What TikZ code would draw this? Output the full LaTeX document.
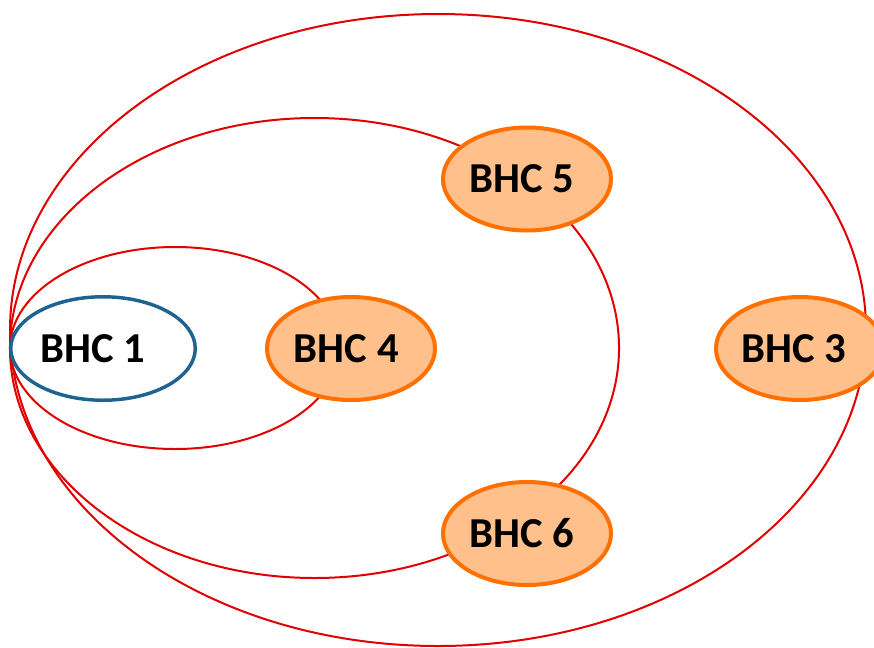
\documentclass[tikz,border=0pt]{standalone}
\usepackage{fontspec}
\setmainfont{Carlito}
\usetikzlibrary{shapes.geometric}
\definecolor{ringred}{RGB}{224,0,0}
\definecolor{bhcorange}{RGB}{255,112,0}
\definecolor{bhcfill}{RGB}{255,192,140}
\definecolor{bhcblue}{RGB}{31,99,145}
\tikzset{
  ring/.style={draw=ringred, line width=1.5pt},
  bhcnode/.style={ellipse, inner sep=0pt, minimum width=126pt, minimum height=77.25pt,
     draw=bhcorange, line width=3pt, fill=bhcfill,
     font=\fontsize{32}{36}\selectfont\bfseries, text=black},
  bhcroot/.style={bhcnode, draw=bhcblue, fill=white, line width=2.6pt,
     minimum width=138.4pt, minimum height=77.6pt}
}
\begin{document}
\begin{tikzpicture}[x=0.75pt, y=-0.75pt]
\useasboundingbox (0,0) rectangle (874,647);
% rings
\draw[ring] (438,330) ellipse [x radius=321pt, y radius=237pt];
\draw[ring] (314.5,348) ellipse [x radius=228.4pt, y radius=172.5pt];
\draw[ring] (175,348) ellipse [x radius=123.75pt, y radius=75.75pt];
% nodes
\node[bhcroot] (b1) at (103,348.5) {BHC 1\kern15pt};
\node[bhcnode] (b4) at (351,348.5) {BHC 4\kern7pt};
\node[bhcnode] (b5) at (527,179) {BHC 5\kern8pt};
\node[bhcnode] (b6) at (527,533.5) {BHC 6\kern8pt};
\node[bhcnode] (b3) at (800,348.5) {BHC 3\kern9pt};
\end{tikzpicture}
\end{document}
